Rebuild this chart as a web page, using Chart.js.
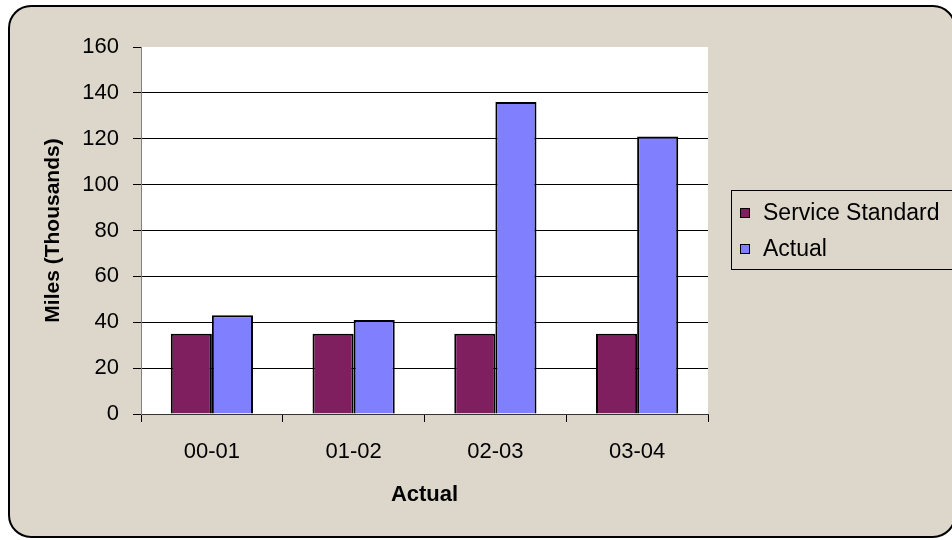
<!DOCTYPE html>
<html>
<head>
<meta charset="utf-8">
<script src="https://cdn.jsdelivr.net/npm/chart.js@4/dist/chart.umd.min.js"></script>
<style>
	html, body { margin: 0; padding: 0; background: #fff; }
	canvas { display: block; }
</style>
</head>
<body>
<canvas id="miles-chart" width="952" height="540"></canvas>
<script>
const years = ['00-01', '01-02', '02-03', '03-04'];
const serviceStandard = [35, 35, 35, 35];
const actual = [43, 41, 136, 121];
const seriesNames = ['Service Standard', 'Actual'];
const seriesColors = ['#7f1f5f', '#8080ff'];

const FONT = "'Liberation Sans', Arial, sans-serif";

// beige card with a rounded black outline, white plot area inside
const cardBackground = {
	id: 'cardBackground',
	beforeDraw(chart) {
		const { ctx, chartArea } = chart;
		ctx.save();
		ctx.beginPath();
		ctx.roundRect(9, 6, 946, 531, 22);
		ctx.fillStyle = '#ddd6ca';
		ctx.fill();
		ctx.lineWidth = 2;
		ctx.strokeStyle = '#000';
		ctx.stroke();
		ctx.fillStyle = '#fff';
		ctx.fillRect(chartArea.left, chartArea.top, chartArea.right - chartArea.left, chartArea.bottom - chartArea.top);
		ctx.restore();
	},
};

// boxed legend on the right
const boxLegend = {
	id: 'boxLegend',
	afterDraw(chart) {
		const { ctx } = chart;
		ctx.save();
		ctx.lineWidth = 1;
		ctx.strokeStyle = '#000';
		ctx.strokeRect(731.5, 190.5, 240, 79);
		ctx.font = '23px ' + FONT;
		ctx.textBaseline = 'middle';
		chart.data.datasets.forEach((ds, i) => {
			const y = 213 + i * 36;
			ctx.fillStyle = ds.backgroundColor;
			ctx.fillRect(740.5, y - 4.5, 9, 9);
			ctx.strokeRect(740.5, y - 4.5, 9, 9);
			ctx.fillStyle = '#000';
			ctx.fillText(ds.label, 763, y + 1);
		});
		ctx.restore();
	},
};

const barStyle = {
	borderColor: '#000',
	borderWidth: 2,
	borderSkipped: 'bottom',
	categoryPercentage: 0.58,
	barPercentage: 1,
};

new Chart('miles-chart', {
	type: 'bar',
	data: {
		labels: years,
		datasets: [
			{ ...barStyle, label: seriesNames[0], data: serviceStandard, backgroundColor: seriesColors[0] },
			{ ...barStyle, label: seriesNames[1], data: actual, backgroundColor: seriesColors[1] },
		],
	},
	options: {
		responsive: false,
		animation: false,
		devicePixelRatio: 1,
		layout: { padding: { left: 0, top: 47, right: 244, bottom: 0 } },
		scales: {
			x: {
				offset: true,
				afterFit: (scale) => { scale.height = 126; },
				grid: {
					offset: true,
					drawOnChartArea: false,
					drawTicks: true,
					tickLength: 8,
					color: '#000',
				},
				border: { color: '#333', width: 1 },
				ticks: {
					color: '#000',
					padding: 17,
					font: { family: FONT, size: 22 },
				},
				title: {
					display: true,
					text: 'Actual',
					color: '#000',
					font: { family: FONT, size: 22, weight: 'bold' },
					padding: { top: 0, bottom: 32 },
				},
			},
			y: {
				min: 0,
				max: 160,
				afterFit: (scale) => { scale.width = 141; },
				grid: {
					color: (c) => (c.tick && c.tick.value === 160 ? 'rgba(0,0,0,0)' : '#000'),
					tickColor: '#000',
					tickLength: 8,
				},
				border: { color: '#808080', width: 1 },
				ticks: {
					stepSize: 20,
					color: '#000',
					padding: 14,
					font: { family: FONT, size: 22 },
				},
				title: {
					display: true,
					text: 'Miles (Thousands)',
					color: '#000',
					font: { family: FONT, size: 21, weight: 'bold' },
					padding: { top: 41, bottom: 0 },
				},
			},
		},
		plugins: {
			legend: { display: false },
			tooltip: { enabled: false },
		},
	},
	plugins: [cardBackground, boxLegend],
});
</script>
</body>
</html>
